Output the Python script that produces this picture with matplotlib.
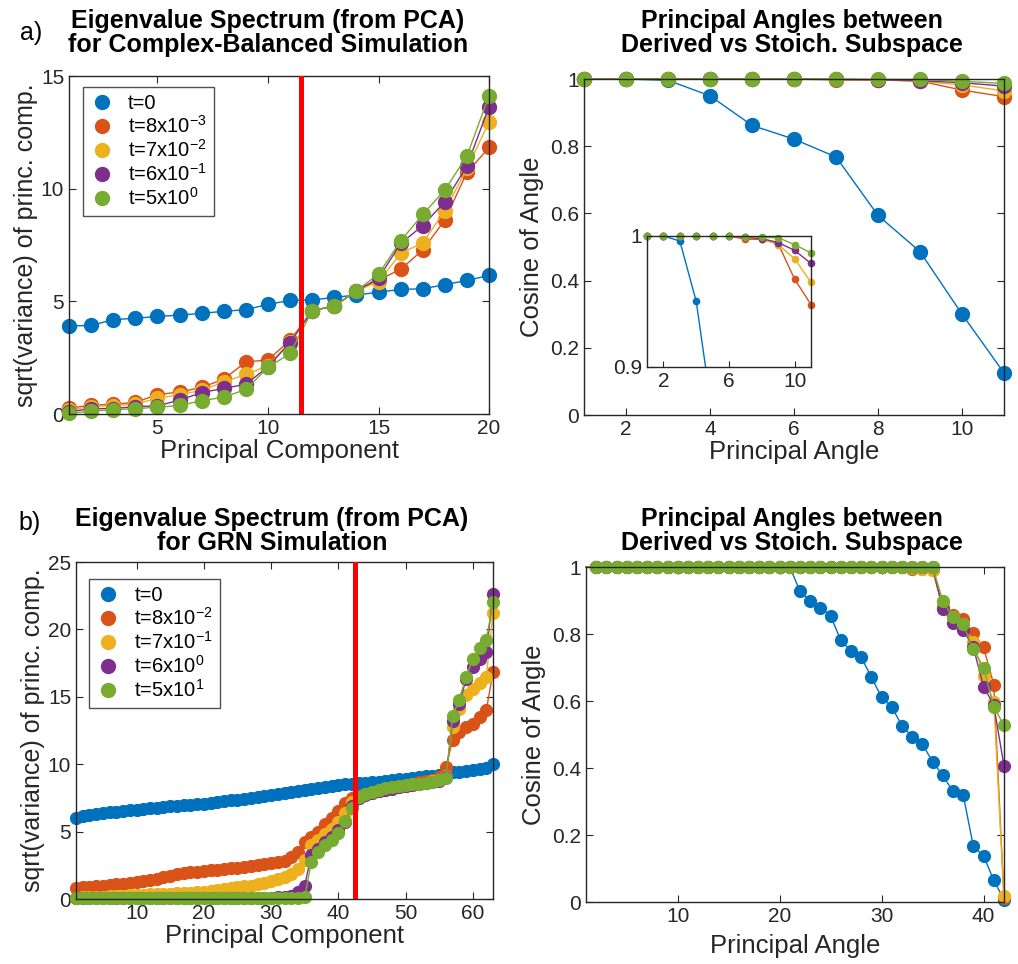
import matplotlib
matplotlib.use("Agg")
import matplotlib.pyplot as plt
from matplotlib.lines import Line2D
from matplotlib.ticker import FuncFormatter

plt.rcParams["font.family"] = ["Liberation Sans", "DejaVu Sans"]
plt.rcParams["mathtext.fontset"] = "custom"
plt.rcParams["mathtext.rm"] = "Liberation Sans"
plt.rcParams["mathtext.default"] = "regular"

# MATLAB default colour order
COLORS = ["#0072BD", "#D95319", "#EDB120", "#7E2F8E", "#77AC30"]
AXCOL = "#262626"

# ---- a) complex-balanced: eigenvalue spectrum (20 components)
pc_a = list(range(1, 21))
cb_t0 = [3.91, 3.93, 4.19, 4.25, 4.33, 4.39, 4.47, 4.56, 4.63, 4.87,
         5.04, 5.06, 5.18, 5.28, 5.41, 5.53, 5.56, 5.74, 5.93, 6.15]
cb_t1 = [0.25, 0.40, 0.43, 0.52, 0.86, 0.98, 1.18, 1.55, 2.31, 2.40,
         3.28, 4.59, 4.79, 5.46, 5.95, 6.42, 7.28, 8.61, 10.72, 11.83]
cb_t2 = [0.18, 0.33, 0.37, 0.44, 0.70, 0.86, 1.05, 1.42, 1.76, 2.14,
         3.21, 4.59, 4.79, 5.47, 5.87, 7.13, 7.60, 9.02, 10.90, 12.96]
cb_t3 = [0.10, 0.24, 0.24, 0.33, 0.36, 0.62, 0.95, 1.14, 1.32, 2.10,
         3.17, 4.59, 4.79, 5.47, 6.02, 7.57, 8.36, 9.42, 11.01, 13.64]
cb_t4 = [0.03, 0.13, 0.19, 0.24, 0.30, 0.38, 0.59, 0.75, 1.09, 2.07,
         2.69, 4.59, 4.79, 5.47, 6.21, 7.68, 8.86, 9.94, 11.45, 14.13]
cb_labels = ["t=0", "t=8x10$^{-3}$", "t=7x10$^{-2}$", "t=6x10$^{-1}$", "t=5x10$^{0}$"]
cb_cut = 11.5

# ---- a) principal angles (11 angles)
ang_a = list(range(1, 12))
pa_t0 = [1.0, 1.0, 0.9962, 0.950, 0.862, 0.821, 0.768, 0.594, 0.486, 0.300, 0.125]
pa_t1 = [1.0, 1.0, 1.0, 1.0, 1.0, 1.0, 0.9975, 0.9975, 0.994, 0.967, 0.9476]
pa_t2 = [1.0, 1.0, 1.0, 1.0, 1.0, 1.0, 0.999, 0.998, 0.9934, 0.9825, 0.9646]
pa_t3 = [1.0, 1.0, 1.0, 1.0, 1.0, 1.0, 0.999, 0.998, 0.995, 0.989, 0.979]
pa_t4 = [1.0, 1.0, 1.0, 1.0, 1.0, 1.0, 0.9995, 0.999, 0.9987, 0.9934, 0.987]

# ---- b) GRN: eigenvalue spectrum (63 components)
pc_b = list(range(1, 64))
grn_t0 = [6.00, 6.15, 6.25, 6.32, 6.38, 6.43, 6.48, 6.53, 6.58, 6.63,
          6.68, 6.73, 6.78, 6.83, 6.88, 6.92, 6.96, 7.00, 7.04, 7.08,
          7.14, 7.20, 7.26, 7.32, 7.38, 7.44, 7.50, 7.57, 7.64, 7.71,
          7.78, 7.85, 7.92, 7.99, 8.06, 8.13, 8.20, 8.28, 8.37, 8.46,
          8.50, 8.54, 8.58, 8.62, 8.66, 8.70, 8.76, 8.82, 8.88, 8.94,
          9.00, 9.05, 9.10, 9.15, 9.20, 9.28, 9.40, 9.46, 9.50, 9.55,
          9.62, 9.75, 10.05]
grn_t1 = [0.80, 0.86, 0.92, 0.96, 1.00, 1.04, 1.08, 1.12, 1.17, 1.23,
          1.32, 1.42, 1.52, 1.62, 1.72, 1.82, 1.90, 1.97, 2.03, 2.08,
          2.13, 2.18, 2.23, 2.28, 2.33, 2.38, 2.44, 2.50, 2.57, 2.64,
          2.72, 2.85, 3.10, 3.50, 4.20, 4.60, 5.00, 5.60, 6.00, 6.50,
          7.10, 7.46, 7.62, 7.78, 7.92, 8.05, 8.16, 8.27, 8.37, 8.47,
          8.56, 8.65, 8.74, 8.85, 9.05, 9.80, 11.80, 12.40, 12.77, 13.02,
          13.50, 14.00, 16.85]
grn_t2 = [0.10, 0.12, 0.14, 0.16, 0.18, 0.20, 0.22, 0.24, 0.27, 0.30,
          0.32, 0.34, 0.36, 0.38, 0.40, 0.42, 0.45, 0.48, 0.51, 0.54,
          0.60, 0.66, 0.72, 0.79, 0.86, 0.93, 1.00, 1.10, 1.22, 1.35,
          1.48, 1.62, 1.85, 2.20, 2.90, 4.00, 4.40, 4.80, 5.20, 5.70,
          6.40, 7.20, 7.50, 7.72, 7.88, 8.01, 8.12, 8.22, 8.31, 8.40,
          8.48, 8.56, 8.64, 8.74, 8.86, 9.15, 12.77, 14.13, 15.10, 15.60,
          16.00, 16.50, 21.20]
grn_t3 = [0.06, 0.06, 0.06, 0.06, 0.06, 0.06, 0.06, 0.06, 0.06, 0.06,
          0.06, 0.06, 0.06, 0.07, 0.07, 0.07, 0.07, 0.07, 0.07, 0.07,
          0.07, 0.07, 0.08, 0.08, 0.08, 0.08, 0.09, 0.09, 0.10, 0.11,
          0.13, 0.16, 0.22, 0.55, 1.00, 3.30, 3.70, 4.20, 4.60, 5.10,
          5.70, 6.90, 7.50, 7.70, 7.85, 7.98, 8.09, 8.19, 8.28, 8.37,
          8.44, 8.50, 8.57, 8.66, 8.78, 9.05, 13.20, 14.50, 16.30, 17.20,
          17.80, 18.30, 22.60]
grn_t4 = [0.04, 0.04, 0.04, 0.04, 0.04, 0.04, 0.04, 0.04, 0.04, 0.04,
          0.04, 0.04, 0.04, 0.04, 0.04, 0.04, 0.04, 0.04, 0.04, 0.04,
          0.04, 0.04, 0.04, 0.04, 0.04, 0.05, 0.05, 0.05, 0.05, 0.05,
          0.05, 0.06, 0.07, 0.09, 0.15, 2.77, 3.50, 4.00, 4.37, 4.87,
          5.78, 6.72, 7.55, 7.80, 7.95, 8.10, 8.20, 8.30, 8.38, 8.45,
          8.50, 8.56, 8.62, 8.70, 8.80, 8.95, 13.57, 14.80, 16.50, 17.80,
          18.60, 19.20, 22.00]
grn_labels = ["t=0", "t=8x10$^{-2}$", "t=7x10$^{-1}$", "t=6x10$^{0}$", "t=5x10$^{1}$"]
grn_cut = 42.5

# ---- b) principal angles (42 angles)
ang_b = list(range(1, 43))
pb_t0 = [1.0, 1.0, 1.0, 1.0, 1.0, 1.0, 1.0, 1.0, 1.0, 1.0,
         1.0, 1.0, 1.0, 1.0, 1.0, 1.0, 1.0, 1.0, 1.0, 1.0,
         1.0, 0.927, 0.899, 0.879, 0.854, 0.781, 0.750, 0.731, 0.671, 0.611,
         0.582, 0.526, 0.494, 0.471, 0.419, 0.378, 0.330, 0.320, 0.166, 0.138,
         0.065, 0.007]
pb_t1 = [1.0, 1.0, 1.0, 1.0, 1.0, 1.0, 1.0, 1.0, 1.0, 1.0,
         1.0, 1.0, 1.0, 1.0, 1.0, 1.0, 1.0, 1.0, 1.0, 1.0,
         1.0, 1.0, 1.0, 1.0, 1.0, 1.0, 1.0, 1.0, 1.0, 1.0,
         1.0, 1.0, 0.995, 0.993, 0.99, 0.88, 0.857, 0.844, 0.802, 0.760,
         0.649, 0.013]
pb_t2 = [1.0, 1.0, 1.0, 1.0, 1.0, 1.0, 1.0, 1.0, 1.0, 1.0,
         1.0, 1.0, 1.0, 1.0, 1.0, 1.0, 1.0, 1.0, 1.0, 1.0,
         1.0, 1.0, 1.0, 1.0, 1.0, 1.0, 1.0, 1.0, 1.0, 1.0,
         1.0, 1.0, 0.997, 0.995, 0.99, 0.89, 0.85, 0.83, 0.776, 0.675,
         0.598, 0.017]
pb_t3 = [1.0, 1.0, 1.0, 1.0, 1.0, 1.0, 1.0, 1.0, 1.0, 1.0,
         1.0, 1.0, 1.0, 1.0, 1.0, 1.0, 1.0, 1.0, 1.0, 1.0,
         1.0, 1.0, 1.0, 1.0, 1.0, 1.0, 1.0, 1.0, 1.0, 1.0,
         1.0, 1.0, 1.0, 1.0, 1.0, 0.874, 0.834, 0.812, 0.760, 0.643,
         0.588, 0.407]
pb_t4 = [1.0, 1.0, 1.0, 1.0, 1.0, 1.0, 1.0, 1.0, 1.0, 1.0,
         1.0, 1.0, 1.0, 1.0, 1.0, 1.0, 1.0, 1.0, 1.0, 1.0,
         1.0, 1.0, 1.0, 1.0, 1.0, 1.0, 1.0, 1.0, 1.0, 1.0,
         1.0, 1.0, 1.0, 1.0, 1.0, 0.899, 0.850, 0.829, 0.754, 0.700,
         0.583, 0.527]


def style_axes(ax, size=15):
    for s in ax.spines.values():
        s.set_color(AXCOL)
        s.set_linewidth(1.0)
    ax.tick_params(direction="in", top=True, right=True, length=5,
                   width=0.8, color=AXCOL, labelcolor=AXCOL, labelsize=size)


def plot_series(ax, x, series, ms, markevery=None):
    for y, c in zip(series, COLORS):
        ax.plot(x, y, "-", color=c, lw=1.0, marker="o", ms=ms, mec=c, mfc=c,
                clip_on=False, markevery=markevery)


def add_legend(ax, labels, anchor):
    handles = [Line2D([], [], ls="none", marker="o", ms=10, color=c) for c in COLORS]
    leg = ax.legend(handles, labels, loc="upper left", bbox_to_anchor=anchor,
                    borderaxespad=0, fontsize=14.5, frameon=True, fancybox=False,
                    handlelength=1.2, handletextpad=0.7, labelspacing=0.1,
                    borderpad=0.35)
    leg.get_frame().set_edgecolor(AXCOL)
    leg.get_frame().set_linewidth(1.0)


fmt_g = FuncFormatter(lambda v, p: "%g" % v)

fig = plt.figure(figsize=(10.18, 9.64), dpi=100)

# a) left
ax1 = fig.add_axes([0.0678, 0.5705, 0.4126, 0.3506])
plot_series(ax1, pc_a, [cb_t0, cb_t1, cb_t2, cb_t3, cb_t4], 10)
ax1.axvline(cb_cut, color="#FF0000", lw=3.6, zorder=5)
ax1.set_xlim(1, 20)
ax1.set_ylim(0, 15)
ax1.set_xticks([5, 10, 15, 20])
ax1.set_yticks([0, 5, 10, 15])
ax1.set_xlabel("Principal Component", fontsize=18.5, color=AXCOL, labelpad=1)
ax1.set_ylabel("sqrt(variance) of princ. comp.", fontsize=18, color=AXCOL, labelpad=2)
style_axes(ax1)
add_legend(ax1, cb_labels, (0.033, 0.967))

# a) right
ax2 = fig.add_axes([0.5737, 0.5695, 0.4126, 0.3485])
plot_series(ax2, ang_a, [pa_t0, pa_t1, pa_t2, pa_t3, pa_t4], 10)
ax2.set_xlim(1, 11)
ax2.set_ylim(0, 1)
ax2.set_xticks([2, 4, 6, 8, 10])
ax2.set_yticks([0, 0.2, 0.4, 0.6, 0.8, 1])
ax2.yaxis.set_major_formatter(fmt_g)
ax2.set_xlabel("Principal Angle", fontsize=18.5, color=AXCOL, labelpad=1)
ax2.set_ylabel("Cosine of Angle", fontsize=18.5, color=AXCOL, labelpad=4)
style_axes(ax2)

# inset zoom of the top of the angle plot
ax3 = fig.add_axes([0.6356, 0.6193, 0.1611, 0.1359])
for y, c in zip([pa_t0, pa_t1, pa_t2, pa_t3, pa_t4], COLORS):
    ax3.plot(ang_a, y, "-", color=c, lw=1.0)
    keep = [i for i, v in enumerate(y) if v >= 0.9]
    ax3.plot([ang_a[i] for i in keep], [y[i] for i in keep], "o", ms=4.5,
             color=c, clip_on=False)
ax3.set_xlim(1, 11)
ax3.set_ylim(0.9, 1)
ax3.set_xticks([2, 6, 10])
ax3.set_yticks([0.9, 1])
ax3.yaxis.set_major_formatter(fmt_g)
style_axes(ax3)
ax3.tick_params(top=False, right=False, length=4)

# b) left
ax4 = fig.add_axes([0.0747, 0.0674, 0.4096, 0.3496])
plot_series(ax4, pc_b, [grn_t0, grn_t1, grn_t2, grn_t3, grn_t4], 8.5)
ax4.axvline(grn_cut, color="#FF0000", lw=3.6, zorder=5)
ax4.set_xlim(1, 63)
ax4.set_ylim(0, 25)
ax4.set_xticks([10, 20, 30, 40, 50, 60])
ax4.set_yticks([0, 5, 10, 15, 20, 25])
ax4.set_xlabel("Principal Component", fontsize=18.5, color=AXCOL, labelpad=1)
ax4.set_ylabel("sqrt(variance) of princ. comp.", fontsize=18, color=AXCOL, labelpad=2)
style_axes(ax4)
add_legend(ax4, grn_labels, (0.031, 0.95))

# b) right
ax5 = fig.add_axes([0.5756, 0.0643, 0.4106, 0.3475])
plot_series(ax5, ang_b, [pb_t0, pb_t1, pb_t2, pb_t3, pb_t4], 8.5,
            markevery=slice(1, None))
ax5.set_xlim(1, 42)
ax5.set_ylim(0, 1)
ax5.set_xticks([10, 20, 30, 40])
ax5.set_yticks([0, 0.2, 0.4, 0.6, 0.8, 1])
ax5.yaxis.set_major_formatter(fmt_g)
ax5.set_xlabel("Principal Angle", fontsize=18.5, color=AXCOL, labelpad=6)
ax5.set_ylabel("Cosine of Angle", fontsize=18.5, color=AXCOL, labelpad=4)
style_axes(ax5)

# titles and panel letters
title_kw = dict(fontsize=18, fontweight="bold", ha="center", va="bottom",
                linespacing=1.0, color="black")
fig.text(268 / 1018, 1 - 57 / 964,
         "Eigenvalue Spectrum (from PCA)\nfor Complex-Balanced Simulation", **title_kw)
fig.text(792 / 1018, 1 - 57 / 964,
         "Principal Angles between\nDerived vs Stoich. Subspace", **title_kw)
fig.text(272 / 1018, 1 - 555 / 964,
         "Eigenvalue Spectrum (from PCA)\nfor GRN Simulation", **title_kw)
fig.text(792 / 1018, 1 - 555 / 964,
         "Principal Angles between\nDerived vs Stoich. Subspace", **title_kw)
fig.text(20 / 1018, 1 - 40 / 964, "a)", fontsize=18, color="black")
fig.text(18 / 1018, 1 - 530 / 964, "b)", fontsize=18, color="black")

fig.savefig("out.png", dpi=100)
